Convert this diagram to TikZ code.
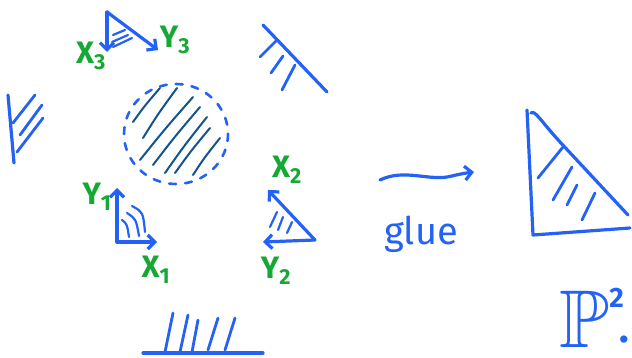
\documentclass[tikz,border=0pt]{standalone}
\usepackage{amssymb}
\usepackage{fontspec}
\setmainfont{Fira Sans}
\usetikzlibrary{arrows.meta}
\definecolor{penblue}{RGB}{36,98,245}
\definecolor{pengreen}{RGB}{22,168,52}
\definecolor{hatchteal}{RGB}{20,84,140}

\begin{document}
\begin{tikzpicture}[
    x=1pt, y=-1pt,
    pen/.style={draw=penblue, line width=3.2pt, line cap=round, line join=round},
    hatch/.style={draw=penblue, line width=2.8pt, line cap=round},
    inner/.style={draw=hatchteal, line width=2pt, line cap=round},
    arr/.style={pen, -{Straight Barb[length=7pt,width=14pt]}},
    lab/.style={text=pengreen, font=\fontsize{31}{34}\selectfont\bfseries, inner sep=0pt}
]
\useasboundingbox (0,0) rectangle (632,358);

% top corner X3, Y3
\coordinate (t3) at (107,12);
\coordinate (x3) at (107,52);
\coordinate (y3) at (158,50);
\draw[arr] (t3) -- (x3);
\draw[arr] (t3) -- (y3);
\draw[hatch, line width=2.2pt] (113,35) -- (125,30);
\draw[hatch, line width=2.2pt] (112,42) -- (128,35);
\draw[hatch, line width=2.2pt] (113,47) -- (132,38);
\node[lab] (lx3) at (91,56) {X\textsubscript{3}};
\node[lab] (ly3) at (175,40) {Y\textsubscript{3}};

% dashed disc
\draw[pen, line width=2.6pt, dash pattern=on 7pt off 9pt] (176,134) ellipse (52 and 50);
\foreach \a/\b/\c/\d in {133/122/160/88, 143/138/177/88, 140/160/193/97, 153/165/200/107,
    165/173/207/117, 175/173/210/128, 193/175/220/138}
  \draw[inner] (\a,\b) .. controls ({\a+0.5*(\c-\a)-2},{\b+0.5*(\d-\b)+1}) .. (\c,\d);

% left edge
\draw[pen] (8,95) -- (14,163);
\draw[hatch] (13,123) -- (35,95);
\draw[hatch] (20,135) -- (42,105);
\draw[hatch] (17,152) -- (43,118);

% top right edge
\draw[pen] (263,25) -- (327,92);
\draw[hatch] (260,57) -- (277,40);
\draw[hatch] (271,73) -- (283,56);
\draw[hatch] (282,90) -- (295,65);

% corner X1, Y1
\coordinate (t1) at (117,242);
\coordinate (y1) at (117,188);
\coordinate (x1) at (157,242);
\draw[arr] (t1) -- (y1);
\draw[arr] (t1) -- (x1);
\draw[hatch, line width=2.2pt] (122,220) .. controls (127,224) .. (129,237);
\draw[hatch, line width=2.2pt] (127,213) .. controls (136,219) .. (139,236);
\draw[hatch, line width=2.2pt] (132,206) .. controls (143,212) .. (145,232);
\node[lab] (ly1) at (97,197) {Y\textsubscript{1}};
\node[lab] (lx1) at (156,270) {X\textsubscript{1}};

% corner X2, Y2
\coordinate (t2) at (315,240);
\coordinate (x2) at (268,190);
\coordinate (y2) at (263,242);
\draw[arr] (t2) -- (x2);
\draw[arr] (t2) -- (y2);
\draw[hatch, line width=2.2pt] (270,227) -- (277,212);
\draw[hatch, line width=2.2pt] (278,230) -- (283,217);
\draw[hatch, line width=2.2pt] (287,233) -- (292,222);
\node[lab] (lx2) at (287,170) {X\textsubscript{2}};
\node[lab] (ly2) at (276,271) {Y\textsubscript{2}};

% bottom edge
\draw[pen] (143,353) -- (263,353);
\draw[hatch] (173,313) -- (165,352);
\draw[hatch] (188,315) -- (180,352);
\draw[hatch] (198,320) -- (192,352);
\draw[hatch] (218,318) -- (208,350);
\draw[hatch] (235,318) -- (225,350);

% glue arrow
\coordinate (g0) at (380,180);
\coordinate (g1) at (474,172);
\draw[arr] (g0) .. controls (405,168) and (430,182) .. (452,176)
    .. controls (460,174) and (466,173) .. (g1);
\node[text=penblue, font=\fontsize{38}{40}\selectfont, inner sep=0pt, anchor=base]
    (glue) at (421,244) {glue};

% the projective plane
\coordinate (p1) at (527,110);
\coordinate (p2) at (533,235);
\coordinate (p3) at (630,228);
\draw[pen] (p1) -- (p2) -- (p3);
\draw[pen] (531,113) .. controls (535,110) and (540,120) .. (560,142) -- (628,215);
\draw[hatch] (538,178) -- (563,147);
\draw[hatch] (553,200) -- (572,167);
\draw[hatch] (567,205) -- (577,185);
\draw[hatch] (582,220) -- (595,193);
\node[text=penblue, font=\fontsize{82}{84}\selectfont, inner sep=0pt, anchor=base west]
    (pp) at (559,347) {$\mathbb{P}$\raisebox{40pt}{\fontsize{28}{30}\selectfont\bfseries 2}};
\node[text=penblue, font=\fontsize{40}{40}\selectfont\bfseries, inner sep=0pt, anchor=base]
    (dot) at (624,342) {.};
\end{tikzpicture}
\end{document}
